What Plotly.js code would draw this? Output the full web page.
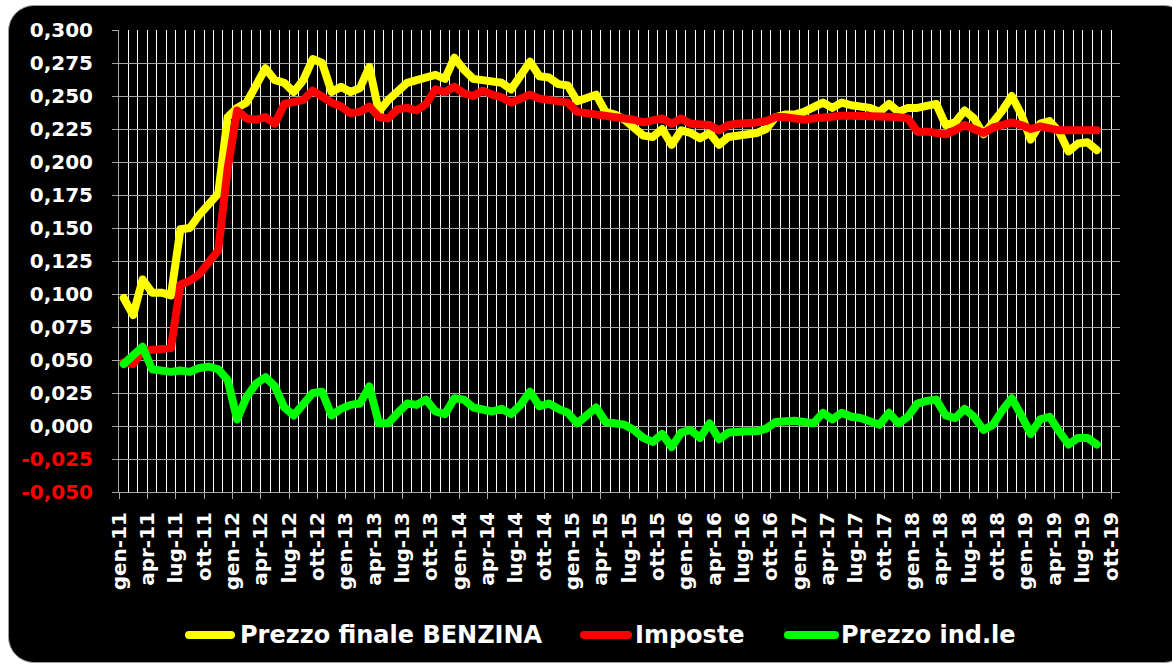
<!DOCTYPE html>
<html>
<head>
<meta charset="utf-8">
<script src="https://cdn.plot.ly/plotly-3.0.1.min.js"></script>
<style>
html,body{margin:0;padding:0;background:#fff;overflow:hidden;width:1172px;height:666px}
#frame{position:absolute;left:8px;top:5px;width:1180px;height:656px;background:#000;border:1px solid #9a9a9a;border-radius:26px}
#chart{position:absolute;left:0;top:0;width:1172px;height:666px}
.scatterlayer .js-line{stroke-linejoin:round!important;stroke-linecap:round!important}
.shapelayer path{stroke-linecap:round!important}
</style>
</head>
<body>
<div id="frame"></div>
<div id="chart"></div>
<script>
// Monthly values, gen-11 .. ago-19
const prezzoFinale = [
0.097,0.084,0.111,0.101,0.101,0.099,0.149,0.150,0.160,0.168,0.176,0.234,
0.241,0.245,0.259,0.271,0.262,0.260,0.253,0.262,0.278,0.275,0.253,0.257,
0.253,0.256,0.272,0.238,0.247,0.254,0.260,0.262,0.264,0.266,0.263,0.279,
0.270,0.263,0.262,0.261,0.260,0.255,0.265,0.276,0.265,0.264,0.259,0.258,
0.246,0.248,0.251,0.238,0.236,0.232,0.226,0.220,0.219,0.225,0.213,0.224,
0.222,0.218,0.222,0.213,0.219,0.220,0.221,0.222,0.225,0.234,0.236,0.236,
0.238,0.241,0.245,0.241,0.245,0.243,0.242,0.241,0.238,0.244,0.238,0.241,
0.241,0.242,0.244,0.228,0.230,0.239,0.233,0.221,0.229,0.239,0.250,0.236,
0.217,0.229,0.231,0.223,0.208,0.214,0.215,0.209
];
const imposte = [
0.048,0.047,0.057,0.058,0.058,0.059,0.107,0.110,0.115,0.125,0.133,0.195,
0.239,0.233,0.232,0.234,0.229,0.244,0.246,0.247,0.254,0.249,0.245,0.242,
0.237,0.238,0.242,0.234,0.233,0.240,0.241,0.239,0.244,0.255,0.253,0.257,
0.252,0.250,0.254,0.251,0.249,0.245,0.248,0.251,0.248,0.247,0.246,0.245,
0.238,0.237,0.237,0.235,0.234,0.234,0.232,0.230,0.232,0.233,0.229,0.233,
0.229,0.229,0.228,0.224,0.228,0.229,0.229,0.230,0.231,0.234,0.234,0.233,
0.232,0.233,0.234,0.234,0.235,0.235,0.235,0.235,0.235,0.234,0.234,0.233,
0.223,0.223,0.222,0.221,0.224,0.228,0.225,0.222,0.226,0.228,0.230,0.228,
0.225,0.227,0.225,0.224,0.224,0.224,0.225,0.224
];
const prezzoInd = [
0.047,0.053,0.060,0.043,0.042,0.041,0.042,0.041,0.044,0.045,0.043,0.035,
0.005,0.022,0.032,0.037,0.030,0.014,0.008,0.016,0.025,0.026,0.008,0.013,
0.016,0.017,0.030,0.002,0.002,0.010,0.017,0.016,0.020,0.011,0.009,0.021,
0.020,0.014,0.012,0.011,0.013,0.009,0.016,0.026,0.015,0.017,0.013,0.010,
0.002,0.009,0.014,0.003,0.002,0.001,-0.003,-0.009,-0.012,-0.006,-0.016,-0.005,
-0.003,-0.009,0.002,-0.010,-0.005,-0.004,-0.004,-0.004,-0.002,0.003,0.004,0.004,
0.003,0.002,0.010,0.005,0.010,0.007,0.006,0.004,0.001,0.010,0.002,0.007,
0.017,0.019,0.020,0.008,0.006,0.013,0.007,-0.003,0.001,0.012,0.021,0.008,
-0.006,0.005,0.007,-0.004,-0.014,-0.009,-0.009,-0.014
];
const xTickLabels = [
'gen-11','apr-11','lug-11','ott-11','gen-12','apr-12','lug-12','ott-12',
'gen-13','apr-13','lug-13','ott-13','gen-14','apr-14','lug-14','ott-14',
'gen-15','apr-15','lug-15','ott-15','gen-16','apr-16','lug-16','ott-16',
'gen-17','apr-17','lug-17','ott-17','gen-18','apr-18','lug-18','ott-18',
'gen-19','apr-19','lug-19','ott-19'
];
const yTickVals = [-0.050,-0.025,0.000,0.025,0.050,0.075,0.100,0.125,0.150,0.175,0.200,0.225,0.250,0.275,0.300];
const seriesNames = ['Prezzo finale BENZINA','Imposte','Prezzo ind.le'];
const seriesColors = ['#ffff00','#ff0000','#00ff00'];

const xMonths = prezzoFinale.map((_, i) => i + 0.5);
const xTickVals = xTickLabels.map((_, i) => i * 3);
const yTickText = yTickVals.map(v => {
  const s = v.toFixed(3).replace('.', ',');
  return v < 0 ? '<span style="color:#ff0000">' + s + '</span>' : s;
});

const fontFam = 'DejaVu Sans, Verdana, sans-serif';
const W = 1172, H = 666, ML = 119, MR = 52, MT = 30, MB = 174;
const pw = W - ML - MR, ph = H - MT - MB;
const px2x = p => (p - ML) / pw;
const py2y = p => (H - MB - p) / ph;

const traces = [prezzoFinale, imposte, prezzoInd].map((vals, k) => ({
  x: xMonths, y: vals, type: 'scatter', mode: 'lines', name: seriesNames[k],
  line: {color: seriesColors[k], width: 8}, hoverinfo: 'skip', showlegend: false
}));

// custom legend
const legendItems = [
  {x0: 189, x1: 231, tx: 238},
  {x0: 584, x1: 628, tx: 633},
  {x0: 788, x1: 835, tx: 839}
];
const legY = 635;
const shapes = legendItems.map((it, k) => ({
  type: 'line', xref: 'paper', yref: 'paper',
  x0: px2x(it.x0), x1: px2x(it.x1), y0: py2y(legY), y1: py2y(legY),
  line: {color: seriesColors[k], width: 8}
}));
const annotations = legendItems.map((it, k) => ({
  xref: 'paper', yref: 'paper', x: px2x(it.tx), y: py2y(legY),
  xanchor: 'left', yanchor: 'middle', showarrow: false, text: seriesNames[k],
  font: {family: fontFam, size: 24, color: '#ffffff', weight: 700}
}));

const layout = {
  width: W, height: H,
  margin: {l: ML, r: MR, t: MT, b: MB, pad: 0},
  paper_bgcolor: 'rgba(0,0,0,0)', plot_bgcolor: '#000000',
  showlegend: false,
  xaxis: {
    range: [0, 105.95], tickmode: 'array', tickvals: xTickVals, ticktext: xTickLabels,
    tickangle: -90, ticks: 'outside', ticklen: 6, tickcolor: '#a6a6a6', tickwidth: 1,
    showgrid: true, gridcolor: '#ffffff', gridwidth: 1,
    minor: {tickmode: 'linear', tick0: 0, dtick: 1, showgrid: true, gridcolor: '#ffffff', gridwidth: 1, ticks: ''},
    showline: true, linecolor: '#a6a6a6', linewidth: 1, zeroline: false,
    ticklabelstandoff: 5,
    tickfont: {family: fontFam, size: 20, color: '#ffffff', weight: 700},
    fixedrange: true
  },
  yaxis: {
    range: [-0.05, 0.30], tickmode: 'array', tickvals: yTickVals, ticktext: yTickText,
    ticks: 'outside', ticklen: 6, tickcolor: '#a6a6a6', tickwidth: 1,
    showgrid: true, gridcolor: '#a6a6a6', gridwidth: 1,
    showline: true, linecolor: '#a6a6a6', linewidth: 1, zeroline: false,
    ticklabelstandoff: 15,
    tickfont: {family: fontFam, size: 20, color: '#ffffff', weight: 700},
    fixedrange: true
  },
  shapes: shapes,
  annotations: annotations
};

Plotly.newPlot('chart', traces, layout, {displayModeBar: false, staticPlot: true});
</script>
</body>
</html>
